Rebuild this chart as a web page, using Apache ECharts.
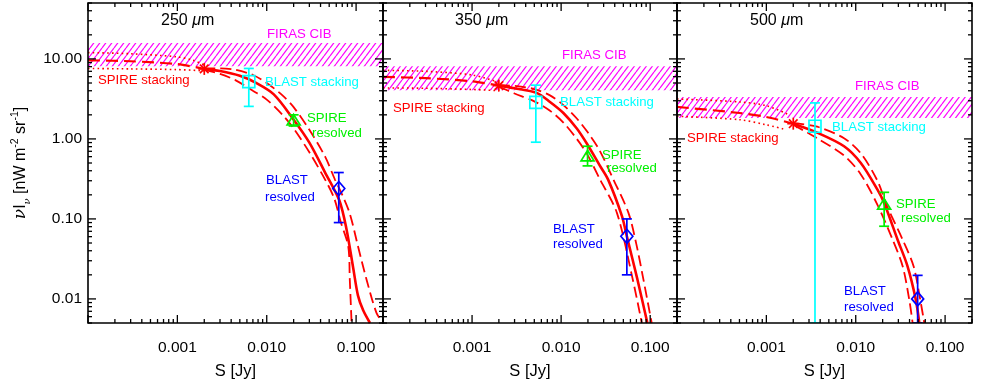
<!DOCTYPE html>
<html>
<head>
<meta charset="utf-8">
<script src="https://cdn.jsdelivr.net/npm/echarts@6/dist/echarts.min.js"></script>
<style>
  html, body { margin: 0; padding: 0; background: #fff; }
  #chart { width: 981px; height: 381px; }
</style>
</head>
<body>
<div id="chart"></div>
<script>
// axis ranges and labelled ticks
const xRange = [1e-4, 0.2];
const yRange = [0.005, 50];
const xLabelTicks = [0.001, 0.01, 0.1];
const yLabelTicks = [0.01, 0.1, 1, 10];
const wavelengths = ['250', '350', '500'];

// FIRAS CIB band [low, high]
const firas250 = [8.1, 15.8];
const firas350 = [4.05, 8.1];
const firas500 = [1.83, 3.35];

// measurements [S, value, low, high]
const star250 = [0.002, 7.5];
const blastStack250 = [0.0063, 5.2, 2.55, 7.6];
const spireRes250 = [0.02, 1.7, 1.45, 2.0];
const blastRes250 = [0.064, 0.24, 0.09, 0.38];

const star350 = [0.002, 4.64];
const blastStack350 = [0.0052, 2.87, 0.91, 4.7];
const spireRes350 = [0.0198, 0.606, 0.46, 0.81];
const blastRes350 = [0.0547, 0.0606, 0.02, 0.1];

const star500 = [0.002, 1.55];
const blastStack500 = [0.0035, 1.44, 0.005, 2.82];
const spireRes500 = [0.0208, 0.151, 0.081, 0.215];
const blastRes500 = [0.0493, 0.01, 0.005, 0.0197];

// stacking extrapolation below 2 mJy (centre, upper, lower)
const extra250 = [[1e-4, 9.6], [3e-4, 9.35], [0.001, 8.6], [0.002, 7.5]];
const extraUp250 = [[1e-4, 12.0], [3e-4, 11.6], [0.001, 10.6], [0.0015, 9.6], [0.002, 8.4]];
const extraLo250 = [[1e-4, 7.6], [3e-4, 7.5], [0.001, 7.35], [0.002, 7.1]];
const extra350 = [[1e-4, 5.96], [3e-4, 5.75], [0.001, 5.25], [0.002, 4.64]];
const extraUp350 = [[1e-4, 7.2], [3e-4, 7.0], [0.001, 6.3], [0.002, 5.1]];
const extraLo350 = [[1e-4, 4.34], [3e-4, 4.3], [0.001, 4.15], [0.002, 4.0]];
const extra500 = [[1e-4, 2.51], [5e-4, 2.11], [0.001, 1.88], [0.002, 1.55]];
const extraUp500 = [[1e-4, 3.16], [5e-4, 2.9], [0.001, 2.6], [0.0018, 2.0]];
const extraLo500 = [[1e-4, 1.92], [5e-4, 1.74], [0.001, 1.5], [0.0016, 1.32]];

// stacking fit above 2 mJy (centre, upper, lower)
const fit250 = [[0.002, 7.5], [0.003, 7.05], [0.005, 6.15], [0.0075, 5.05], [0.012, 3.6], [0.02, 1.74],
  [0.03, 0.9], [0.045, 0.38], [0.065, 0.17], [0.078, 0.075], [0.093, 0.024], [0.105, 0.011], [0.12, 0.0072], [0.143, 0.005]];
const fitUp250 = [[0.002, 7.6], [0.003, 7.6], [0.0045, 7.3], [0.007, 6.3], [0.01, 5.0], [0.015, 3.5], [0.02, 2.5],
  [0.03, 1.3], [0.045, 0.6], [0.058, 0.31], [0.07, 0.2], [0.0853, 0.115], [0.105, 0.0455], [0.131, 0.0174], [0.169, 0.0067], [0.2, 0.005]];
const fitLo250 = [[0.002, 7.3], [0.003, 6.5], [0.0045, 5.4], [0.007, 4.0], [0.01, 3.1], [0.015, 2.0], [0.02, 1.35],
  [0.03, 0.68], [0.045, 0.31], [0.057, 0.18], [0.0676, 0.09], [0.0817, 0.0455], [0.085, 0.0174], [0.089, 0.005]];

const fit350 = [[0.002, 4.64], [0.003, 4.3], [0.0053, 3.76], [0.0075, 2.9], [0.0106, 2.11], [0.015, 1.35],
  [0.0195, 0.87], [0.027, 0.47], [0.0337, 0.31], [0.048, 0.11], [0.0547, 0.0606], [0.072, 0.0174], [0.093, 0.005]];
const fitUp350 = [[0.002, 4.7], [0.003, 4.6], [0.005, 4.2], [0.0075, 3.5], [0.0106, 2.65], [0.015, 1.8], [0.02, 1.2],
  [0.027, 0.72], [0.0387, 0.31], [0.057, 0.119], [0.07, 0.048], [0.084, 0.0174], [0.104, 0.005]];
const fitLo350 = [[0.002, 4.5], [0.003, 3.7], [0.005, 2.95], [0.0075, 2.25], [0.0106, 1.6], [0.015, 1.0], [0.0195, 0.65],
  [0.0274, 0.31], [0.0423, 0.119], [0.0638, 0.0174], [0.0805, 0.005]];

const fit500 = [[0.002, 1.55], [0.0037, 1.2], [0.0074, 0.81], [0.0114, 0.5], [0.0175, 0.232], [0.0208, 0.158],
  [0.0294, 0.055], [0.038, 0.0256], [0.047, 0.0098], [0.0514, 0.005]];
const fitUp500 = [[0.002, 1.58], [0.0037, 1.42], [0.0074, 1.02], [0.0114, 0.66], [0.0175, 0.3], [0.0227, 0.14],
  [0.0335, 0.055], [0.0444, 0.0256], [0.0527, 0.0098], [0.0585, 0.005]];
const fitLo500 = [[0.002, 1.5], [0.0037, 1.02], [0.0074, 0.62], [0.0114, 0.36], [0.0175, 0.15], [0.0259, 0.055],
  [0.0335, 0.0256], [0.0397, 0.0098], [0.0433, 0.005]];

const FONT = "'Liberation Sans', Arial, Helvetica, sans-serif";
const RED = '#ff0000', CYAN = '#00ffff', GREEN = '#00f000', BLUE = '#0000ff', MAGENTA = '#ff00ff';

const panels = [
  { firas: firas250, extra: extra250, extraUp: extraUp250, extraLo: extraLo250, fit: fit250, fitUp: fitUp250, fitLo: fitLo250,
    points: [star250, blastStack250, spireRes250, blastRes250] },
  { firas: firas350, extra: extra350, extraUp: extraUp350, extraLo: extraLo350, fit: fit350, fitUp: fitUp350, fitLo: fitLo350,
    points: [star350, blastStack350, spireRes350, blastRes350] },
  { firas: firas500, extra: extra500, extraUp: extraUp500, extraLo: extraLo500, fit: fit500, fitUp: fitUp500, fitLo: fitLo500,
    points: [star500, blastStack500, spireRes500, blastRes500] }
];

const grids = [
  { left: 88, top: 3, width: 295, height: 320, containLabel: false, outerBoundsMode: 'none' },
  { left: 383, top: 3, width: 294, height: 320, containLabel: false, outerBoundsMode: 'none' },
  { left: 677, top: 3, width: 295, height: 320, containLabel: false, outerBoundsMode: 'none' }
];

// hatch pattern for the FIRAS band
function makeHatch() {
  const w = 6, h = 8;
  const c = document.createElement('canvas');
  c.width = w; c.height = h;
  const ctx = c.getContext('2d');
  ctx.strokeStyle = MAGENTA;
  ctx.lineWidth = 1.2;
  [-w, 0, w].forEach(function (dx) {
    ctx.beginPath();
    ctx.moveTo(dx, h);
    ctx.lineTo(dx + w, 0);
    ctx.stroke();
  });
  return c;
}
const hatch = { type: 'pattern', image: makeHatch(), repeat: 'repeat' };

function isListed(v, list) {
  return list.some(function (t) { return Math.abs(v / t - 1) < 1e-6; });
}

function pow10Ticks(lo, hi) {
  const out = [];
  for (let e = Math.floor(Math.log10(lo)); e <= Math.ceil(Math.log10(hi)); e++) {
    for (let k = 1; k <= 9; k++) {
      const v = k * Math.pow(10, e);
      if (v >= lo * 0.9999 && v <= hi * 1.0001) out.push({ v: v, major: k === 1 });
    }
  }
  return out;
}
const xTicks = pow10Ticks(xRange[0], xRange[1]);
const yTicks = pow10Ticks(yRange[0], yRange[1]);

function renderFrame(params, api) {
  const cs = params.coordSys;
  const l = cs.x, t = cs.y, r = cs.x + cs.width, b = cs.y + cs.height;
  const st = { stroke: '#000', lineWidth: 1.3 };
  const kids = [{ type: 'rect', shape: { x: l, y: t, width: cs.width, height: cs.height },
    style: { fill: null, stroke: '#000', lineWidth: 1.6 } }];
  xTicks.forEach(function (tk) {
    const px = api.coord([tk.v, yRange[0]])[0];
    const len = tk.major ? 8 : 4;
    kids.push({ type: 'line', shape: { x1: px, y1: b, x2: px, y2: b - len }, style: st });
    kids.push({ type: 'line', shape: { x1: px, y1: t, x2: px, y2: t + len }, style: st });
  });
  yTicks.forEach(function (tk) {
    const py = api.coord([xRange[0], tk.v])[1];
    const len = tk.major ? 8 : 4;
    kids.push({ type: 'line', shape: { x1: l, y1: py, x2: l + len, y2: py }, style: st });
    kids.push({ type: 'line', shape: { x1: r, y1: py, x2: r - len, y2: py }, style: st });
  });
  return { type: 'group', children: kids };
}

function renderBand(params, api) {
  const p0 = api.coord([xRange[0], api.value(1)]);
  const p1 = api.coord([xRange[1], api.value(2)]);
  return { type: 'rect', shape: { x: p0[0], y: p1[1], width: p1[0] - p0[0], height: p0[1] - p1[1] },
    style: { fill: hatch } };
}

const kindColors = [RED, CYAN, GREEN, BLUE];
function renderPoint(params, api) {
  const x = api.value(0), y = api.value(1), lo = api.value(2), hi = api.value(3), kind = api.value(4);
  const c = api.coord([x, y]);
  const color = kindColors[kind];
  const st = { stroke: color, fill: null, lineWidth: 1.7 };
  const kids = [];
  if (lo !== hi) {
    const pl = api.coord([x, lo]), ph = api.coord([x, hi]);
    kids.push({ type: 'line', shape: { x1: c[0], y1: pl[1], x2: c[0], y2: ph[1] }, style: st });
    kids.push({ type: 'line', shape: { x1: c[0] - 5, y1: pl[1], x2: c[0] + 5, y2: pl[1] }, style: st });
    kids.push({ type: 'line', shape: { x1: c[0] - 5, y1: ph[1], x2: c[0] + 5, y2: ph[1] }, style: st });
  }
  if (kind === 0) {
    const r = 6, d = 4.3;
    [[-r, 0, r, 0], [0, -r, 0, r], [-d, -d, d, d], [-d, d, d, -d]].forEach(function (s) {
      kids.push({ type: 'line', shape: { x1: c[0] + s[0], y1: c[1] + s[1], x2: c[0] + s[2], y2: c[1] + s[3] }, style: st });
    });
  } else if (kind === 1) {
    kids.push({ type: 'rect', shape: { x: c[0] - 6, y: c[1] - 6, width: 12, height: 12 }, style: st });
  } else if (kind === 2) {
    kids.push({ type: 'polygon', shape: { points: [[c[0], c[1] - 6], [c[0] + 6.5, c[1] + 4.5], [c[0] - 6.5, c[1] + 4.5]] }, style: st });
  } else {
    kids.push({ type: 'polygon', shape: { points: [[c[0], c[1] - 7], [c[0] + 6, c[1]], [c[0], c[1] + 7], [c[0] - 6, c[1]]] }, style: st });
  }
  return { type: 'group', children: kids };
}

function lineSeries(i, data, type, width, dash) {
  return {
    type: 'line', xAxisIndex: i, yAxisIndex: i, data: data, showSymbol: false, symbol: 'none',
    smooth: 0.3, silent: true, z: 3, clip: true,
    lineStyle: { color: RED, width: width, type: dash || type, cap: 'butt' }
  };
}

const xAxes = [], yAxes = [], series = [];
panels.forEach(function (p, i) {
  xAxes.push({
    type: 'log', gridIndex: i, min: xRange[0], max: xRange[1], logBase: 10,
    axisLine: { show: false }, axisTick: { show: false }, splitLine: { show: false },
    axisLabel: {
      margin: 17, color: '#000', fontSize: 15.5, fontFamily: FONT,
      formatter: function (v) { return isListed(v, xLabelTicks) ? v.toFixed(3) : ''; }
    },
    name: 'S [Jy]', nameLocation: 'middle', nameGap: 40,
    nameTextStyle: { color: '#000', fontSize: 16.5, fontFamily: FONT }
  });
  yAxes.push({
    type: 'log', gridIndex: i, min: yRange[0], max: yRange[1], logBase: 10,
    axisLine: { show: false }, axisTick: { show: false }, splitLine: { show: false },
    axisLabel: {
      show: i === 0, margin: 6, color: '#000', fontSize: 15.5, fontFamily: FONT,
      formatter: function (v) { return isListed(v, yLabelTicks) ? v.toFixed(2) : ''; }
    },
    name: i === 0 ? '{nu|ν}{b|I}{sub|ν}{b| [nW m}{sup|-2}{b| sr}{sup|-1}{b|]}' : '',
    nameLocation: 'middle', nameGap: 56,
    nameTextStyle: {
      color: '#000', fontFamily: FONT, fontSize: 16,
      rich: {
        b: { fontSize: 16, fontFamily: FONT, color: '#000', lineHeight: 22 },
        nu: { fontSize: 17, fontFamily: "'DejaVu Serif', serif", fontStyle: 'italic', color: '#000', lineHeight: 22 },
        sub: { fontSize: 10, fontFamily: "'DejaVu Serif', serif", fontStyle: 'italic', color: '#000', lineHeight: 12, verticalAlign: 'bottom' },
        sup: { fontSize: 10.5, fontFamily: FONT, color: '#000', lineHeight: 12, verticalAlign: 'top' }
      }
    }
  });
  series.push({
    type: 'custom', xAxisIndex: i, yAxisIndex: i, renderItem: renderBand, silent: true, z: 1, clip: true,
    encode: { x: 0, y: 1 }, data: [[xRange[0], p.firas[0], p.firas[1]]]
  });
  series.push(lineSeries(i, p.extra, 'dashed', 2.2, [12, 6]));
  series.push(lineSeries(i, p.extraUp, 'dotted', 1.6, [1.6, 3.2]));
  series.push(lineSeries(i, p.extraLo, 'dotted', 1.6, [1.6, 3.2]));
  series.push(lineSeries(i, p.fit, 'solid', 2.6));
  series.push(lineSeries(i, p.fitUp, 'dashed', 1.8, [11, 5]));
  series.push(lineSeries(i, p.fitLo, 'dashed', 1.8, [11, 5]));
  series.push({
    type: 'custom', xAxisIndex: i, yAxisIndex: i, renderItem: renderPoint, silent: true, z: 5, clip: true,
    encode: { x: 0, y: 1 },
    data: p.points.map(function (pt, k) {
      return [pt[0], pt[1], pt.length > 2 ? pt[2] : pt[1], pt.length > 2 ? pt[3] : pt[1], k];
    })
  });
  series.push({
    type: 'custom', xAxisIndex: i, yAxisIndex: i, renderItem: renderFrame, silent: true, z: 10, clip: false,
    encode: { x: 0, y: 1 }, data: [[0.001, 1]]
  });
});

// annotation text: [text, colour, left, middle-y]
const notes = [
  ['FIRAS CIB', MAGENTA, 267, 34], ['SPIRE stacking', RED, 98, 80], ['BLAST stacking', CYAN, 265, 82],
  ['SPIRE', GREEN, 307, 118], ['resolved', GREEN, 312, 133], ['BLAST', BLUE, 266, 180], ['resolved', BLUE, 265, 197],
  ['FIRAS CIB', MAGENTA, 562, 55], ['SPIRE stacking', RED, 393, 108], ['BLAST stacking', CYAN, 560, 102],
  ['SPIRE', GREEN, 602, 155], ['resolved', GREEN, 607, 168], ['BLAST', BLUE, 553, 229], ['resolved', BLUE, 553, 244],
  ['FIRAS CIB', MAGENTA, 855, 86], ['SPIRE stacking', RED, 687, 138], ['BLAST stacking', CYAN, 832, 127],
  ['SPIRE', GREEN, 896, 204], ['resolved', GREEN, 901, 218], ['BLAST', BLUE, 844, 291], ['resolved', BLUE, 844, 307]
];
const titleLeft = [161, 455, 750];

const graphics = notes.map(function (n) {
  return { type: 'text', x: n[2], y: n[3], z: 20, silent: true,
    style: { text: n[0], fill: n[1], font: '13.2px ' + FONT, verticalAlign: 'middle', align: 'left' } };
});
wavelengths.forEach(function (w, i) {
  graphics.push({ type: 'text', x: titleLeft[i], y: 21, z: 20, silent: true,
    style: {
      text: '{n|' + w + ' }{u|μ}{n|m}', verticalAlign: 'middle', align: 'left',
      rich: {
        n: { fontSize: 16, fontFamily: FONT, fill: '#000' },
        u: { fontSize: 16, fontFamily: FONT, fontStyle: 'italic', fill: '#000' }
      }
    } });
});

const chart = echarts.init(document.getElementById('chart'), null, { renderer: 'canvas' });
chart.setOption({
  animation: false,
  backgroundColor: '#fff',
  grid: grids,
  xAxis: xAxes,
  yAxis: yAxes,
  series: series,
  graphic: graphics
});
</script>
</body>
</html>
